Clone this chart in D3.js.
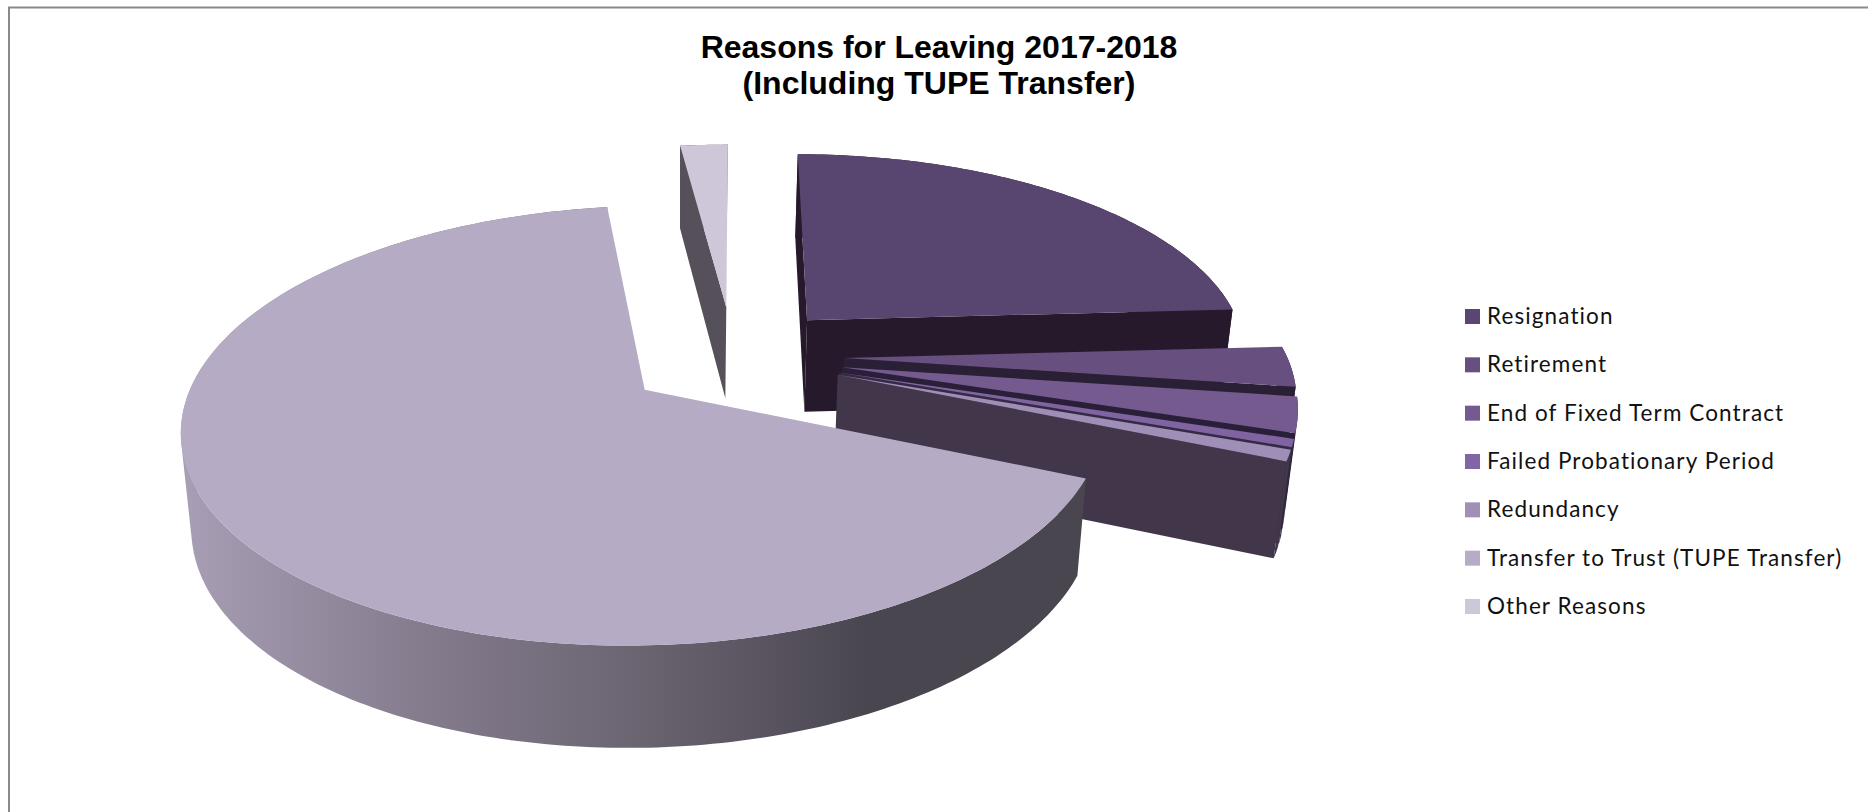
<!DOCTYPE html>
<html>
<head>
<meta charset="utf-8">
<title>Reasons for Leaving 2017-2018</title>
<script src="https://cdn.jsdelivr.net/npm/d3@7"></script>
<style>
  html, body { margin: 0; padding: 0; background: #fff; }
  svg { display: block; }
</style>
</head>
<body>
<svg id="chart" width="1868" height="812"></svg>
<script>
// Share of leavers by reason, in percent
const categories = [
  "Resignation", "Retirement", "End of Fixed Term Contract",
  "Failed Probationary Period", "Redundancy",
  "Transfer to Trust (TUPE Transfer)", "Other Reasons"
];
const shares = [24.1, 3.1, 2.7, 0.6, 0.85, 66.59, 2.06];
const titleLines = ["Reasons for Leaving 2017-2018", "(Including TUPE Transfer)"];

const topColours = ["#584570", "#674f80", "#755a90", "#8064a2", "#9f8eb5", "#b5abc5", "#cdc7d9"];
const sideColours = ["#26192b", "#2a2035", "#2a1f38", "#352a45", "#41364a", "#4a4650", "#55505a"];
const legendColours = ["#5a4673", "#674f82", "#755a92", "#8265a4", "#a08fb6", "#b6acc6", "#cdc7d9"];

// Perspective of the pie's top plane: unit-radius model coordinates to pixels
const view = {
  originX: 733, originY: 356, radius: 443,
  vanishX: 738, perspective: 0.16, planeScale: 203,
  explode: 0.25,
  nadirX: 680, nadirPull: 0.021
};
// The large slice sits a touch off its pure radial explosion
const sliceNudge = new Map([["Transfer to Trust (TUPE Transfer)", [0.005, 0.01]]]);

function project(x, y) {
  const w = 1 - view.perspective * y;
  return [
    view.vanishX + (view.originX - view.vanishX + view.radius * x) / w,
    view.originY + view.planeScale * y / w
  ];
}

// Drop a top-plane point to the bottom of the pie's thickness
function extrude(p, y) {
  return [p[0] + (view.nadirX - p[0]) * view.nadirPull, p[1] + 93 + 8 * y];
}

const svg = d3.select("#chart");
const line = d3.line();
const closedPath = pts => line(pts) + "Z";

const defs = svg.append("defs");
const rimGradient = defs.append("linearGradient")
  .attr("id", "rimShade")
  .attr("gradientUnits", "userSpaceOnUse")
  .attr("x1", 183).attr("x2", 1085).attr("y1", 0).attr("y2", 0);
[[0, "#a89eb5"], [0.26, "#857c8e"], [0.5, "#6b6572"], [0.76, "#4a4650"], [1, "#4a4650"]]
  .forEach(([offset, colour]) => {
    rimGradient.append("stop").attr("offset", offset).attr("stop-color", colour);
  });

// Plot-area frame: only its top and left edges fall inside the page
svg.append("path")
  .attr("d", "M9,812V7.5H1868")
  .attr("fill", "none").attr("stroke", "#898989").attr("stroke-width", 2);

// Slice angles run clockwise from twelve o'clock
const slices = d3.pie().sort(null).startAngle(0).endAngle(2 * Math.PI)(shares);

const sliceLayer = svg.append("g");

slices.forEach((slice, i) => {
  const mid = (slice.startAngle + slice.endAngle) / 2;
  const nudge = sliceNudge.get(categories[i]) || [0, 0];
  const ax = view.explode * Math.sin(mid) + nudge[0];
  const ay = -view.explode * Math.cos(mid) + nudge[1];

  const rimAt = a => ({ x: ax + Math.sin(a), y: ay - Math.cos(a) });
  const steps = Math.max(2, Math.ceil((slice.endAngle - slice.startAngle) / (Math.PI / 180)));
  const rimAngles = d3.range(steps + 1)
    .map(k => slice.startAngle + (slice.endAngle - slice.startAngle) * k / steps);
  const rim = rimAngles.map(rimAt);

  const apexTop = project(ax, ay);
  const apexBottom = extrude(apexTop, ay);
  const rimTop = rim.map(p => project(p.x, p.y));
  const rimBottom = rim.map((p, k) => extrude(rimTop[k], p.y));

  const g = sliceLayer.append("g").attr("class", "slice");
  const side = sideColours[i];

  // Cut faces are drawn only when they turn towards the viewer
  const startFace = [apexTop, rimTop[0], rimBottom[0], apexBottom];
  const endFace = [apexTop, rimTop[steps], rimBottom[steps], apexBottom];
  if (d3.polygonArea(startFace) > 0) {
    g.append("path").attr("d", closedPath(startFace)).attr("fill", side);
  }
  if (d3.polygonArea(endFace) < 0) {
    g.append("path").attr("d", closedPath(endFace)).attr("fill", side);
  }

  // Outer wall: per-step quads in one path, all wound the same way so folds stay filled
  const wallPath = d3.pairs(d3.range(steps + 1))
    .map(([a, b]) => {
      const quad = [rimTop[a], rimTop[b], rimBottom[b], rimBottom[a]];
      return closedPath(d3.polygonArea(quad) < 0 ? quad.reverse() : quad);
    })
    .join("");
  g.append("path")
    .attr("d", wallPath)
    .attr("fill", i === 5 ? "url(#rimShade)" : side);

  g.append("path")
    .attr("d", closedPath([apexTop].concat(rimTop)))
    .attr("fill", topColours[i]);
});

// Title
const title = svg.append("g")
  .attr("text-anchor", "middle")
  .attr("font-family", "'Liberation Sans', Arial, sans-serif")
  .attr("font-weight", "bold")
  .attr("font-size", 32)
  .attr("fill", "#000");
titleLines.forEach((text, i) => {
  title.append("text").attr("x", 939).attr("y", 58 + 36 * i).text(text);
});

// Legend
const legendY = d3.scalePoint().domain(categories).range([309, 599]);
const legend = svg.append("g").selectAll("g").data(categories).join("g")
  .attr("transform", d => `translate(1465,${legendY(d)})`);
legend.append("rect")
  .attr("width", 15).attr("height", 15)
  .attr("fill", (d, i) => legendColours[i]);
legend.append("text")
  .attr("x", 22).attr("y", 15)
  .attr("font-family", "Lato, 'Open Sans', sans-serif")
  .attr("font-size", 22.5)
  .attr("letter-spacing", 1.1)
  .attr("fill", "#111")
  .text(d => d);
</script>
</body>
</html>
